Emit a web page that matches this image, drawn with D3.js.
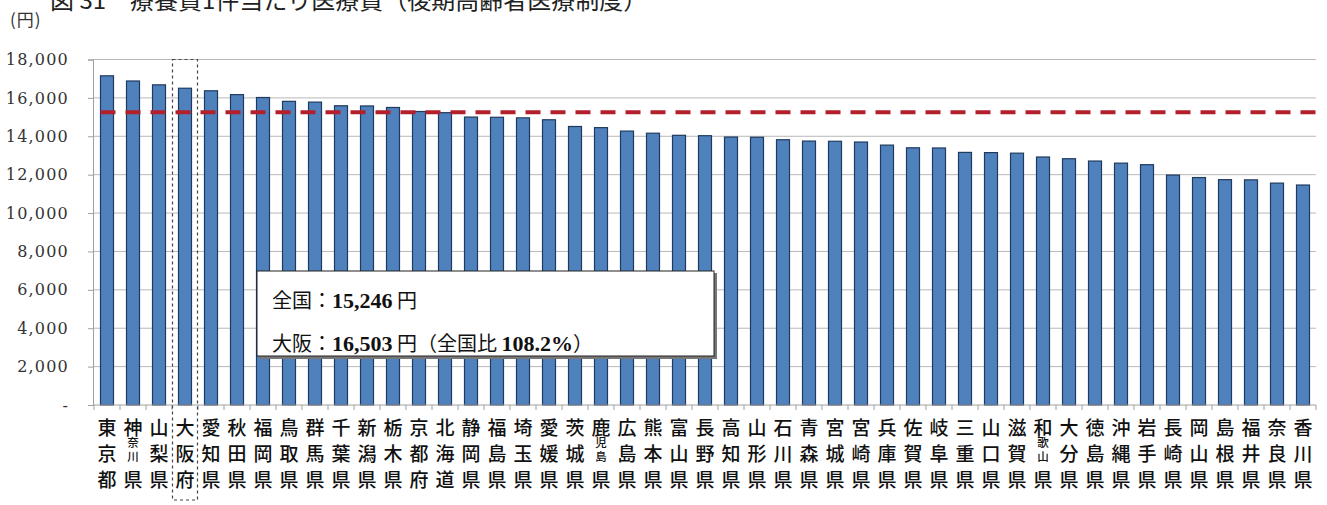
<!DOCTYPE html>
<html><head><meta charset="utf-8">
<script src="https://cdn.jsdelivr.net/npm/d3@7"></script>
<style>body{margin:0;background:#fff;}svg{display:block;}</style>
</head><body>
<svg id="chart" width="1327" height="505"></svg>
<script>
const prefectures = ["東京都","神奈川県","山梨県","大阪府","愛知県","秋田県","福岡県","鳥取県","群馬県","千葉県","新潟県","栃木県","京都府","北海道","静岡県","福島県","埼玉県","愛媛県","茨城県","鹿児島県","広島県","熊本県","富山県","長野県","高知県","山形県","石川県","青森県","宮城県","宮崎県","兵庫県","佐賀県","岐阜県","三重県","山口県","滋賀県","和歌山県","大分県","徳島県","沖縄県","岩手県","長崎県","岡山県","島根県","福井県","奈良県","香川県"];
const costPerCase = [17150,16880,16680,16503,16370,16170,16020,15820,15780,15590,15580,15500,15290,15230,15000,14990,14960,14860,14510,14450,14270,14160,14050,14030,13960,13950,13820,13750,13740,13700,13540,13400,13390,13160,13150,13120,12920,12830,12710,12600,12520,11980,11850,11740,11730,11560,11460];
const nationalAverage = 15246;
const yTicks = [0,2000,4000,6000,8000,10000,12000,14000,16000,18000];
const highlight = "大阪府";
const titleText = "図 31　療養費1件当たり医療費（後期高齢者医療制度）";
const unitText = "(円)";
const noteLine1 = [["全国：",false],["15,246",true],[" 円",false]];
const noteLine2 = [["大阪：",false],["16,503",true],[" 円（全国比 ",false],["108.2%",true],["）",false]];

(function () {
const svg = d3.select("#chart");
const pL = 94, pR = 1316, pT = 59.5, pB = 405;
const x = d3.scaleBand().domain(prefectures).range([pL, pR]).paddingInner(0.5).paddingOuter(0.25);
const y = d3.scaleLinear().domain([0, 18000]).range([pB, pT]);

svg.append("text").attr("x", 50).attr("y", 8.5)
  .attr("font-family", "Noto Sans CJK JP").attr("font-size", 24).attr("fill", "#222").text(titleText);
svg.append("text").attr("x", 10).attr("y", 26)
  .attr("font-family", "Noto Sans CJK JP").attr("font-size", 17).attr("fill", "#333")
  .attr("letter-spacing", 1).text(unitText);

svg.append("g").selectAll("line").data(yTicks.filter(d => d > 0)).join("line")
  .attr("x1", pL - 1).attr("x2", pR).attr("y1", d => y(d)).attr("y2", d => y(d))
  .attr("stroke", "#b8b8b8").attr("stroke-width", 1);

const yAxis = d3.axisLeft(y).tickValues(yTicks).tickSize(5).tickPadding(19)
  .tickFormat(d => d === 0 ? "-" : d3.format(",")(d));
const ga = svg.append("g").attr("transform", `translate(${pL - 1},0)`).call(yAxis);
ga.select(".domain").attr("stroke", "#a0a0a0");
ga.selectAll(".tick line").attr("stroke", "#a0a0a0");
ga.selectAll(".tick text").attr("font-family", "DejaVu Serif").attr("font-size", 16)
  .attr("letter-spacing", 1.2).attr("fill", "#333");

svg.append("g").selectAll("rect").data(prefectures).join("rect")
  .attr("x", d => x(d)).attr("width", x.bandwidth())
  .attr("y", (d, i) => y(costPerCase[i])).attr("height", (d, i) => pB - y(costPerCase[i]))
  .attr("fill", "#4f81bd").attr("stroke", "#1f3a5f").attr("stroke-width", 1.2);

svg.append("line").attr("x1", pL - 1).attr("x2", pR).attr("y1", pB).attr("y2", pB)
  .attr("stroke", "#a0a0a0");
const step = x.step();
svg.append("g").selectAll("line").data(d3.range(prefectures.length + 1)).join("line")
  .attr("x1", i => pL + i * step).attr("x2", i => pL + i * step)
  .attr("y1", pB).attr("y2", pB + 5).attr("stroke", "#a0a0a0");

svg.append("line").attr("x1", x(prefectures[0])).attr("x2", pR)
  .attr("y1", y(nationalAverage)).attr("y2", y(nationalAverage))
  .attr("stroke", "#b3202c").attr("stroke-width", 4).attr("stroke-dasharray", "15,10");

const lg = svg.append("g").attr("font-family", "Noto Sans CJK JP").attr("font-weight", 500)
  .attr("fill", "#111").attr("text-anchor", "middle");
prefectures.forEach(name => {
  const cx = x(name) + x.bandwidth() / 2;
  const chars = Array.from(name);
  const put = (c, yy, fs) => lg.append("text").attr("x", cx).attr("y", yy).attr("font-size", fs)
    .attr("dominant-baseline", "central").text(c);
  if (chars.length === 3) {
    put(chars[0], 426, 19); put(chars[1], 452, 19); put(chars[2], 478, 19);
  } else {
    put(chars[0], 426, 19); put(chars[1], 442, 11.5); put(chars[2], 456, 11.5); put(chars[3], 478, 19);
  }
});

const hx = x(highlight) + x.bandwidth() / 2;
svg.append("rect").attr("x", hx - 12.5).attr("y", pT).attr("width", 25).attr("height", 500 - pT)
  .attr("fill", "none").attr("stroke", "#444").attr("stroke-width", 1.2).attr("stroke-dasharray", "3,3");

svg.append("rect").attr("x", 259).attr("y", 273).attr("width", 458).attr("height", 86).attr("fill", "#777");
svg.append("rect").attr("x", 257).attr("y", 271).attr("width", 457).attr("height", 85)
  .attr("fill", "#fff").attr("stroke", "#222").attr("stroke-width", 1);
function noteText(parts, yy) {
  const t = svg.append("text").attr("x", 272).attr("y", yy).attr("font-size", 20).attr("fill", "#111");
  parts.forEach(([s, b]) => t.append("tspan")
    .attr("font-family", b ? "Liberation Serif" : "Noto Sans CJK JP")
    .attr("font-weight", b ? "bold" : "normal").attr("font-size", b ? 22 : 20).text(s));
}
noteText(noteLine1, 308);
noteText(noteLine2, 351);
})();
</script>
</body></html>
